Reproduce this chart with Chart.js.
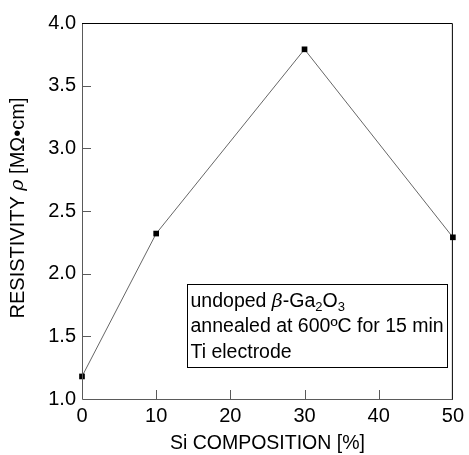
<!DOCTYPE html>
<html>
<head>
<meta charset="utf-8">
<script src="https://cdn.jsdelivr.net/npm/chart.js@4/dist/chart.umd.min.js"></script>
<style>
  html, body { margin: 0; padding: 0; background: #fff; }
  #wrap { width: 469px; height: 455px; position: relative; }
</style>
</head>
<body>
<div id="wrap"><canvas id="c" width="469" height="455"></canvas></div>
<script>
// Si composition (%) and measured resistivity (MΩ·cm)
const siComposition = [0, 10, 30, 50];
const resistivity = [1.18, 2.32, 3.79, 2.29];
const xTicks = [0, 10, 20, 30, 40, 50];
const yTicks = [1.0, 1.5, 2.0, 2.5, 3.0, 3.5, 4.0];
const noteLines = ['undoped β-Ga2O3', 'annealed at 600ºC for 15 min', 'Ti electrode'];

const FONT = '"Liberation Sans", Arial, sans-serif';
const AXIS_GRAY = '#5a5a5a';

// inward tick marks, frame, rotated y title and the annotation box
const decorations = {
  id: 'decorations',
  afterDraw(chart) {
    const { ctx, chartArea: a, scales: { x, y } } = chart;
    ctx.save();
    ctx.lineWidth = 1;
    // left & bottom axes
    ctx.strokeStyle = AXIS_GRAY;
    ctx.beginPath();
    ctx.moveTo(a.left + 0.5, a.top);
    ctx.lineTo(a.left + 0.5, a.bottom + 0.5);
    ctx.lineTo(a.right, a.bottom + 0.5);
    ctx.stroke();
    // top & right frame
    ctx.strokeStyle = '#000';
    ctx.beginPath();
    ctx.moveTo(a.left, a.top + 0.5);
    ctx.lineTo(a.right - 0.5, a.top + 0.5);
    ctx.lineTo(a.right - 0.5, a.bottom + 0.5);
    ctx.stroke();
    // inward ticks
    ctx.strokeStyle = AXIS_GRAY;
    ctx.beginPath();
    yTicks.slice(1, -1).forEach(v => {
      const py = Math.round(y.getPixelForValue(v)) + 0.5;
      ctx.moveTo(a.left, py);
      ctx.lineTo(a.left + 9, py);
    });
    xTicks.slice(1, -1).forEach(v => {
      const px = Math.round(x.getPixelForValue(v)) + 0.5;
      ctx.moveTo(px, a.bottom);
      ctx.lineTo(px, a.bottom - 9);
    });
    ctx.stroke();

    // y axis title with italic rho
    ctx.fillStyle = '#000';
    ctx.translate(18, (a.top + a.bottom) / 2 - 3);
    ctx.rotate(-Math.PI / 2);
    ctx.textBaseline = 'middle';
    const parts = [
      { t: 'RESISTIVITY ', f: '20px ' + FONT },
      { t: 'ρ', f: 'italic 19px "DejaVu Serif", serif' },
      { t: ' [MΩ•cm]', f: '20px ' + FONT }
    ];
    let total = 0;
    parts.forEach(p => { ctx.font = p.f; p.w = ctx.measureText(p.t).width; total += p.w; });
    let cx = -total / 2;
    ctx.textAlign = 'left';
    parts.forEach(p => { ctx.font = p.f; ctx.fillText(p.t, cx, 0); cx += p.w; });
    ctx.restore();

    // annotation box
    ctx.save();
    const bx = 187.5, by = 284.5, bw = 260, bh = 83;
    ctx.strokeStyle = '#000';
    ctx.lineWidth = 1;
    ctx.strokeRect(bx, by, bw, bh);
    ctx.fillStyle = '#000';
    ctx.textBaseline = 'alphabetic';
    ctx.textAlign = 'left';
    const main = '19.5px ' + FONT, sub = '13px ' + FONT;
    let tx = bx + 3;
    const b1 = by + 22;
    const seg = [
      { t: 'undoped ', f: main, dy: 0 },
      { t: 'β', f: 'italic 19px "DejaVu Serif", serif', dy: 0 },
      { t: '-Ga', f: main, dy: 0 },
      { t: '2', f: sub, dy: 4 },
      { t: 'O', f: main, dy: 0 },
      { t: '3', f: sub, dy: 4 }
    ];
    seg.forEach(s => { ctx.font = s.f; ctx.fillText(s.t, tx, b1 + s.dy); tx += ctx.measureText(s.t).width; });
    ctx.font = main;
    ctx.fillText(noteLines[1], bx + 3, b1 + 25.5);
    ctx.fillText(noteLines[2], bx + 3, b1 + 51);
    ctx.restore();
  }
};

new Chart(document.getElementById('c'), {
  type: 'line',
  data: {
    datasets: [{
      data: siComposition.map((v, i) => ({ x: v, y: resistivity[i] })),
      borderColor: '#666',
      borderWidth: 1,
      pointStyle: 'rect',
      pointRadius: 4,
      pointBackgroundColor: '#000',
      pointBorderColor: '#000',
      pointBorderWidth: 0,
      tension: 0,
      clip: false
    }]
  },
  options: {
    responsive: false,
    animation: false,
    devicePixelRatio: 1,
    layout: { padding: { top: 23, right: 11, left: 0, bottom: 0 } },
    plugins: { legend: { display: false }, tooltip: { enabled: false } },
    scales: {
      x: {
        type: 'linear',
        min: 0, max: 50,
        afterBuildTicks(s) { s.ticks = xTicks.map(v => ({ value: v })); },
        afterFit(s) { s.height = 56; },
        grid: { display: false, drawTicks: false },
        border: { display: false },
        ticks: { color: '#000', padding: 5, maxRotation: 0, font: { family: FONT, size: 20 } },
        title: { display: true, text: 'Si COMPOSITION [%]', color: '#000', font: { family: FONT, size: 19.5 }, padding: { top: 1, bottom: 0 } }
      },
      y: {
        type: 'linear',
        min: 1.0, max: 4.0,
        afterBuildTicks(s) { s.ticks = yTicks.map(v => ({ value: v })); },
        afterFit(s) { s.width = 82; },
        grid: { display: false, drawTicks: false },
        border: { display: false },
        ticks: { color: '#000', padding: 6, font: { family: FONT, size: 20 }, callback: v => v.toFixed(1) }
      }
    }
  },
  plugins: [decorations]
});
</script>
</body>
</html>
